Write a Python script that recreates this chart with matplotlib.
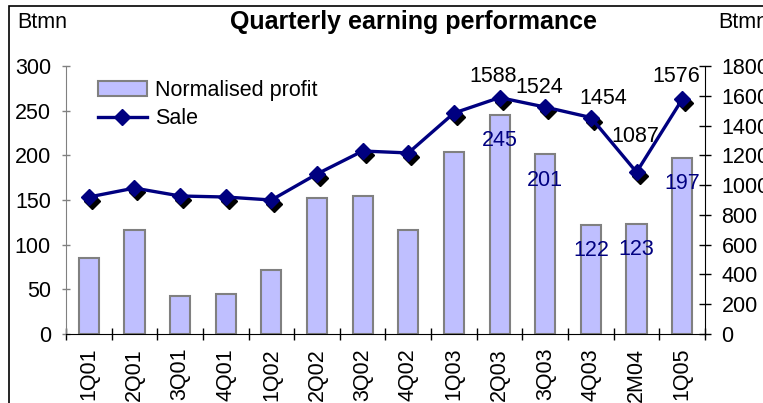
import matplotlib
matplotlib.use("Agg")
import matplotlib.pyplot as plt
import matplotlib.patches as mpatches
from matplotlib.transforms import offset_copy
import numpy as np

plt.rcParams["font.family"] = ["Liberation Sans", "DejaVu Sans"]

quarters = ["1Q01", "2Q01", "3Q01", "4Q01", "1Q02", "2Q02", "3Q02", "4Q02",
            "1Q03", "2Q03", "3Q03", "4Q03", "2M04", "1Q05"]
profit = [85, 116, 43, 45, 72, 152, 154, 116, 204, 245, 201, 122, 123, 197]
sale = [920, 980, 927, 920, 900, 1075, 1229, 1216, 1484, 1588, 1524, 1454, 1087, 1576]

# which points carry a value label
profit_labelled = ["2Q03", "3Q03", "4Q03", "2M04", "1Q05"]
sale_labelled = ["2Q03", "3Q03", "4Q03", "2M04", "1Q05"]
# label offsets from the sale marker (points)
sale_label_offset = {"2Q03": (-5, 15), "3Q03": (-4, 14), "4Q03": (9, 14),
                     "2M04": (-1, 26), "1Q05": (-4, 16.5)}

FS = 15.5
W, H = 763, 403
fig = plt.figure(figsize=(W / 100, H / 100), dpi=100)

# outer frame (cut off at right and bottom like the original)
frame = mpatches.Rectangle((9 / W, -0.1), 1.2, 1 - 6 / H + 0.1, transform=fig.transFigure,
                           fill=False, edgecolor="black", linewidth=1.2, clip_on=False)
fig.patches.append(frame)

ax = fig.add_axes([66 / W, (H - 334) / H, (705 - 66) / W, (334 - 66) / H])
ax2 = ax.twinx()

x = np.arange(len(quarters))
bars = ax.bar(x, profit, width=0.44, color="#BFBFFF", edgecolor="#808080", linewidth=1.5,
              label="Normalised profit", zorder=2)

shadow = offset_copy(ax2.transData, fig=fig, x=3, y=-4, units="dots")
ax2.plot(x, sale, linestyle="none", marker="D", markersize=8, color="black",
         transform=shadow, zorder=2)
line, = ax2.plot(x, sale, color="#000080", linewidth=2.4, marker="D", markersize=8,
                 markerfacecolor="#000080", markeredgecolor="#000080", label="Sale", zorder=3)

for q in profit_labelled:
    i = quarters.index(q)
    ax.annotate(str(profit[i]), (x[i], profit[i]), xytext=(0, -18.5), textcoords="offset points",
                ha="center", va="center", fontsize=FS, color="#000080", zorder=5)

for q in sale_labelled:
    i = quarters.index(q)
    dx, dy = sale_label_offset[q]
    ax2.annotate(str(sale[i]), (x[i], sale[i]), xytext=(dx, dy), textcoords="offset points",
                 ha="center", va="center", fontsize=FS, color="black", zorder=5)

ax.set_xlim(-0.5, len(quarters) - 0.5)
ax.set_ylim(0, 300)
ax.set_yticks(np.arange(0, 301, 50))
ax2.set_ylim(0, 1800)
ax2.set_yticks(np.arange(0, 1801, 200))

ax.set_xticks(x)
ax.set_xticklabels(quarters, rotation=90, fontsize=FS)
ax.set_xticks(np.arange(-0.5, len(quarters), 1), minor=True)
ax.tick_params(axis="x", which="major", length=0, pad=10)
ax.tick_params(axis="x", which="minor", direction="inout", length=8.6, width=1)
ax.tick_params(axis="y", direction="inout", length=5.8, width=1, color="#808080",
               labelsize=FS, pad=8)
ax2.tick_params(axis="y", direction="inout", length=8.6, width=1, labelsize=FS, pad=7.5)

for a in (ax, ax2):
    a.spines["top"].set_visible(False)
ax.spines["left"].set_color("#808080")
ax2.spines["left"].set_visible(False)
ax.spines["right"].set_visible(False)
ax2.spines["bottom"].set_visible(False)

ax2.set_zorder(ax.get_zorder() + 1)
ax2.patch.set_visible(False)

ax2.legend([bars, line], ["Normalised profit", "Sale"], loc="upper left",
           bbox_to_anchor=(89 / W, (H - 71) / H), bbox_transform=fig.transFigure,
           frameon=False, fontsize=FS, handlelength=2.3, handletextpad=0.37,
           labelspacing=0.35, borderaxespad=0)

fig.text(414 / W, 1 - 22 / H, "Quarterly earning performance", ha="center", va="center",
         fontsize=18, fontweight="bold")
fig.text(17 / W, 1 - 22 / H, "Btmn", ha="left", va="center", fontsize=FS)
fig.text(718 / W, 1 - 22 / H, "Btmn", ha="left", va="center", fontsize=FS)

fig.savefig("out.png", dpi=100)
